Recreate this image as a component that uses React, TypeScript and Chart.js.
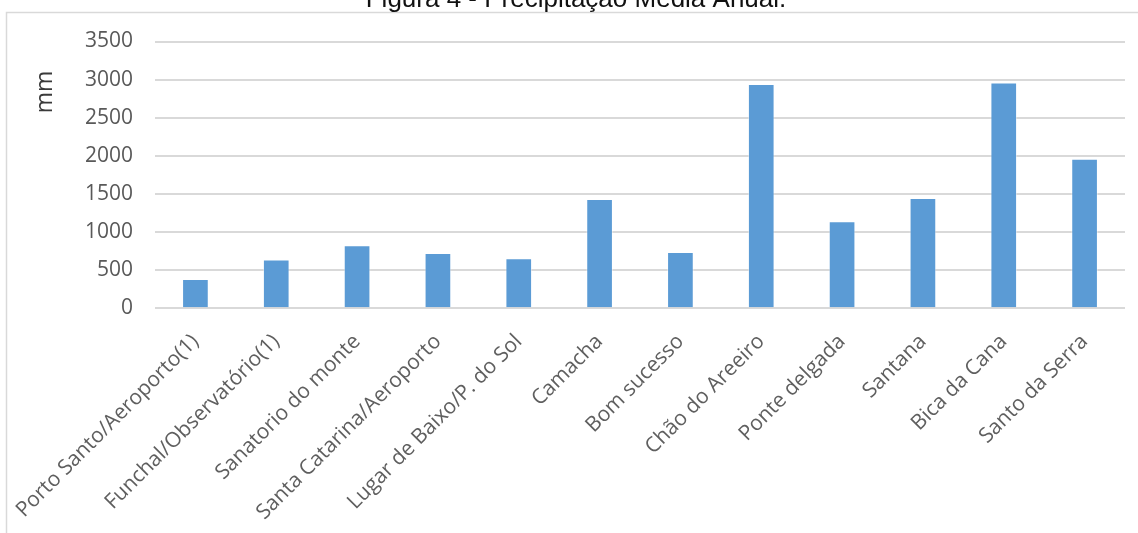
import React, { useEffect, useRef } from "react";
import { Chart, registerables } from "chart.js";

Chart.register(...registerables);

// Estações e precipitação média anual (mm)
const stations: string[] = [
  "Porto Santo/Aeroporto(1)",
  "Funchal/Observatório(1)",
  "Sanatorio do monte",
  "Santa Catarina/Aeroporto",
  "Lugar de Baixo/P. do Sol",
  "Camacha",
  "Bom sucesso",
  "Chão do Areeiro",
  "Ponte delgada",
  "Santana",
  "Bica da Cana",
  "Santo da Serra",
];

const precipitation: number[] = [385, 640, 827, 726, 656, 1434, 739, 2944, 1142, 1448, 2961, 1963];

const yMin = 0;
const yMax = 3500;
const yStep = 500;

const chartTitle = "Figura 4 - Precipitação Média Anual.";
const yAxisTitle = "mm";

const WIDTH = 1138;
const HEIGHT = 533;

// Frame, heading and the unit label drawn straight onto the canvas
const decorPlugin = {
  id: "decor",
  beforeDraw(chart: Chart) {
    const ctx = chart.ctx;
    ctx.save();
    ctx.fillStyle = "#ffffff";
    ctx.fillRect(0, 0, chart.width, chart.height);
    ctx.strokeStyle = "#d9d9d9";
    ctx.lineWidth = 1.5;
    ctx.beginPath();
    ctx.moveTo(6.5, chart.height);
    ctx.lineTo(6.5, 12.5);
    ctx.lineTo(chart.width, 12.5);
    ctx.stroke();
    ctx.restore();
  },
  afterDraw(chart: Chart) {
    const ctx = chart.ctx;
    ctx.save();
    ctx.fillStyle = "#111111";
    ctx.font = '26px "Liberation Sans", Arial, sans-serif';
    ctx.textAlign = "center";
    ctx.textBaseline = "alphabetic";
    ctx.fillText(chartTitle, 576, 7);

    ctx.translate(45.5, 92);
    ctx.rotate(-Math.PI / 2);
    ctx.fillStyle = "#3a3a3a";
    ctx.font = '23px "Open Sans", sans-serif';
    ctx.textAlign = "center";
    ctx.textBaseline = "middle";
    ctx.fillText(yAxisTitle, 0, 0);
    ctx.restore();
  },
};

export default function App() {
  const canvasRef = useRef<HTMLCanvasElement | null>(null);

  useEffect(() => {
    const canvas = canvasRef.current;
    if (!canvas) return;
    const chart = new Chart(canvas, {
      type: "bar",
      data: {
        labels: stations,
        datasets: [
          {
            data: precipitation,
            backgroundColor: "#5b9bd5",
            borderColor: "rgba(255,255,255,0.45)",
            borderWidth: 1,
            barPercentage: 0.33,
            categoryPercentage: 1,
          },
        ],
      },
      options: {
        animation: false,
        responsive: false,
        maintainAspectRatio: false,
        devicePixelRatio: 1,
        layout: { padding: { left: 0, right: 13, top: 41.5, bottom: 0 } },
        plugins: {
          legend: { display: false },
          title: { display: false },
          tooltip: { enabled: false },
        },
        scales: {
          x: {
            grid: { display: false },
            border: { display: false },
            ticks: {
              minRotation: 45,
              maxRotation: 45,
              autoSkip: false,
              padding: 13,
              color: "#5f5f5f",
              font: { family: '"Open Sans", sans-serif', size: 21 },
            },
            afterFit(scale: any) {
              scale.height = HEIGHT - 308.3;
              scale.paddingLeft = 0;
              scale.paddingRight = 0;
            },
          },
          y: {
            min: yMin,
            max: yMax,
            ticks: {
              stepSize: yStep,
              padding: 22,
              color: "#595959",
              font: { family: '"Open Sans", sans-serif', size: 21 },
              callback: (value: any) => String(value),
            },
            grid: { color: "#d9d9d9", lineWidth: 2, drawTicks: false },
            border: { display: false },
            afterFit(scale: any) {
              scale.width = 155;
              scale.paddingTop = 0;
              scale.paddingBottom = 0;
            },
          },
        },
      },
      plugins: [decorPlugin],
    });
    return () => chart.destroy();
  }, []);

  return (
    <div style={{ position: "fixed", left: 0, top: 0, width: WIDTH, height: HEIGHT, background: "#fff" }}>
      <canvas ref={canvasRef} width={WIDTH} height={HEIGHT} style={{ display: "block", width: WIDTH, height: HEIGHT }} />
    </div>
  );
}
